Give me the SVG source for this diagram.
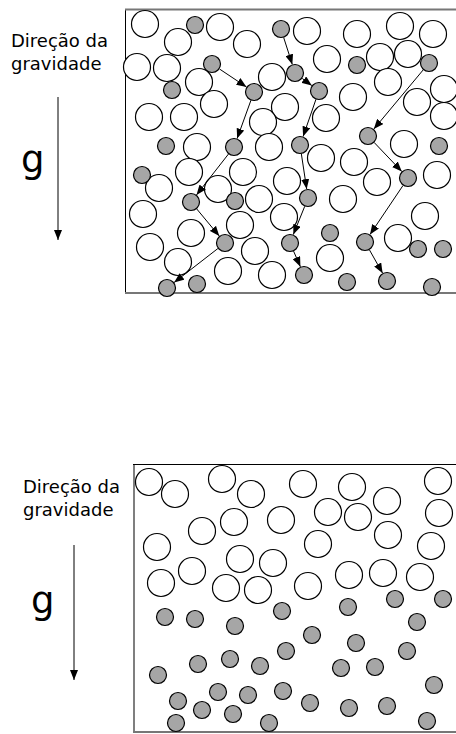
<svg xmlns="http://www.w3.org/2000/svg" width="456" height="734" viewBox="0 0 456 734">
<style>
.w{fill:#fff;stroke:#000;stroke-width:1.2}
.g{fill:#a6a6a6;stroke:#000;stroke-width:1.2}
.t{font-family:"DejaVu Sans",sans-serif;font-size:18px;fill:#000}
.big{font-family:"DejaVu Sans",sans-serif;font-size:37px;fill:#000}
.a{stroke:#000;stroke-width:1;fill:none;marker-end:url(#ah)}
</style>
<defs>
<marker id="ah" markerUnits="userSpaceOnUse" markerWidth="10" markerHeight="8" refX="10" refY="4" orient="auto">
<path d="M0,0 L10,4 L0,8 z" fill="#000"/>
</marker>
</defs>
<rect width="456" height="734" fill="#fff"/>
<g id="labels-top">
<text class="t" x="11" y="47">Direção da</text>
<text class="t" x="11" y="70">gravidade</text>
<text class="big" x="21" y="172">g</text>
<line class="a" x1="58" y1="97" x2="58" y2="240"/>
</g>
<g id="box-top">
<line x1="125.5" y1="9" x2="125.5" y2="294" stroke="#000" stroke-width="1"/>
<line x1="125" y1="9.5" x2="456" y2="9.5" stroke="#777" stroke-width="2"/>
<line x1="125" y1="293" x2="456" y2="293" stroke="#777" stroke-width="2"/>
</g>
<g id="particles-top">
<circle class="w" cx="145" cy="24" r="13.5"/>
<circle class="w" cx="178" cy="42" r="13.5"/>
<circle class="w" cx="220" cy="27" r="13.5"/>
<circle class="w" cx="247" cy="44" r="13.5"/>
<circle class="w" cx="307" cy="31" r="13.5"/>
<circle class="w" cx="357" cy="34" r="13.5"/>
<circle class="w" cx="400" cy="26" r="13.5"/>
<circle class="w" cx="433" cy="34" r="13.5"/>
<circle class="w" cx="137" cy="67" r="13.5"/>
<circle class="w" cx="167" cy="68" r="13.5"/>
<circle class="w" cx="199" cy="82" r="13.5"/>
<circle class="w" cx="272" cy="77" r="13.5"/>
<circle class="w" cx="327" cy="59" r="13.5"/>
<circle class="w" cx="380" cy="57" r="13.5"/>
<circle class="w" cx="408" cy="54" r="13.5"/>
<circle class="w" cx="388" cy="82" r="13.5"/>
<circle class="w" cx="444" cy="89" r="13.5"/>
<circle class="w" cx="214" cy="104" r="13.5"/>
<circle class="w" cx="285" cy="107" r="13.5"/>
<circle class="w" cx="353" cy="97" r="13.5"/>
<circle class="w" cx="417" cy="102" r="13.5"/>
<circle class="w" cx="444" cy="116" r="13.5"/>
<circle class="w" cx="149" cy="117" r="13.5"/>
<circle class="w" cx="184" cy="117" r="13.5"/>
<circle class="w" cx="263" cy="122" r="13.5"/>
<circle class="w" cx="326" cy="118" r="13.5"/>
<circle class="w" cx="197" cy="147" r="13.5"/>
<circle class="w" cx="269" cy="147" r="13.5"/>
<circle class="w" cx="321" cy="158" r="13.5"/>
<circle class="w" cx="404" cy="144" r="13.5"/>
<circle class="w" cx="189" cy="172" r="13.5"/>
<circle class="w" cx="159" cy="188" r="13.5"/>
<circle class="w" cx="243" cy="172" r="13.5"/>
<circle class="w" cx="218" cy="189" r="13.5"/>
<circle class="w" cx="259" cy="199" r="13.5"/>
<circle class="w" cx="287" cy="181" r="13.5"/>
<circle class="w" cx="143" cy="214" r="13.5"/>
<circle class="w" cx="191" cy="233" r="13.5"/>
<circle class="w" cx="240" cy="225" r="13.5"/>
<circle class="w" cx="284" cy="217" r="13.5"/>
<circle class="w" cx="150" cy="247" r="13.5"/>
<circle class="w" cx="178" cy="262" r="13.5"/>
<circle class="w" cx="255" cy="251" r="13.5"/>
<circle class="w" cx="228" cy="271" r="13.5"/>
<circle class="w" cx="272" cy="275" r="13.5"/>
<circle class="w" cx="354" cy="162" r="13.5"/>
<circle class="w" cx="377" cy="182" r="13.5"/>
<circle class="w" cx="437" cy="175" r="13.5"/>
<circle class="w" cx="343" cy="199" r="13.5"/>
<circle class="w" cx="425" cy="216" r="13.5"/>
<circle class="w" cx="398" cy="238" r="13.5"/>
<circle class="w" cx="330" cy="258" r="13.5"/>
<circle class="g" cx="195" cy="25" r="8.5"/>
<circle class="g" cx="281" cy="29" r="8.5"/>
<circle class="g" cx="212" cy="64" r="8.5"/>
<circle class="g" cx="357" cy="65" r="8.5"/>
<circle class="g" cx="429" cy="63" r="8.5"/>
<circle class="g" cx="295" cy="73" r="8.5"/>
<circle class="g" cx="172" cy="90" r="8.5"/>
<circle class="g" cx="254" cy="92" r="8.5"/>
<circle class="g" cx="319" cy="91" r="8.5"/>
<circle class="g" cx="166" cy="146" r="8.5"/>
<circle class="g" cx="234" cy="147" r="8.5"/>
<circle class="g" cx="300" cy="145" r="8.5"/>
<circle class="g" cx="368" cy="136" r="8.5"/>
<circle class="g" cx="439" cy="146" r="8.5"/>
<circle class="g" cx="142" cy="175" r="8.5"/>
<circle class="g" cx="235" cy="201" r="8.5"/>
<circle class="g" cx="191" cy="202" r="8.5"/>
<circle class="g" cx="408" cy="178" r="8.5"/>
<circle class="g" cx="308" cy="198" r="8.5"/>
<circle class="g" cx="330" cy="233" r="8.5"/>
<circle class="g" cx="225" cy="243" r="8.5"/>
<circle class="g" cx="290" cy="243" r="8.5"/>
<circle class="g" cx="365" cy="242" r="8.5"/>
<circle class="g" cx="418" cy="249" r="8.5"/>
<circle class="g" cx="443" cy="249" r="8.5"/>
<circle class="g" cx="167" cy="288" r="8.5"/>
<circle class="g" cx="197" cy="284" r="8.5"/>
<circle class="g" cx="304" cy="275" r="8.5"/>
<circle class="g" cx="347" cy="282" r="8.5"/>
<circle class="g" cx="387" cy="281" r="8.5"/>
<circle class="g" cx="432" cy="287" r="8.5"/>
</g>
<g id="connectors">
<line class="a" x1="219.5" y1="69" x2="246.5" y2="87"/>
<line class="a" x1="250.9" y1="100.4" x2="237.1" y2="138.6"/>
<line class="a" x1="228.5" y1="154" x2="196.5" y2="194.9"/>
<line class="a" x1="196.7" y1="208.9" x2="219.3" y2="236.1"/>
<line class="a" x1="217.9" y1="248.5" x2="174.1" y2="282.5"/>
<line class="a" x1="283.7" y1="37.6" x2="292.3" y2="64.4"/>
<line class="a" x1="302.2" y1="78.4" x2="311.8" y2="85.6"/>
<line class="a" x1="315.9" y1="99.5" x2="303.1" y2="136.5"/>
<line class="a" x1="301.3" y1="153.5" x2="306.7" y2="189.1"/>
<line class="a" x1="304.7" y1="206.4" x2="293.3" y2="234.6"/>
<line class="a" x1="293.6" y1="251.2" x2="300.4" y2="266.8"/>
<line class="a" x1="423.2" y1="69.9" x2="373.8" y2="129.1"/>
<line class="a" x1="374.2" y1="142.5" x2="401.8" y2="171.5"/>
<line class="a" x1="403" y1="185.5" x2="370" y2="234.5"/>
<line class="a" x1="369.4" y1="249.8" x2="382.6" y2="273.2"/>
</g>
<g id="labels-bottom">
<text class="t" x="23" y="493">Direção da</text>
<text class="t" x="23" y="516">gravidade</text>
<text class="big" x="31" y="613">g</text>
<line class="a" x1="74" y1="545" x2="74" y2="680"/>
</g>
<g id="box-bottom">
<line x1="134" y1="464" x2="134" y2="733" stroke="#555" stroke-width="1.5"/>
<line x1="133" y1="464.5" x2="456" y2="464.5" stroke="#000" stroke-width="1"/>
<line x1="133" y1="732" x2="456" y2="732" stroke="#777" stroke-width="2"/>
</g>
<g id="particles-bottom">
<circle class="w" cx="149" cy="482" r="13.5"/>
<circle class="w" cx="175" cy="494" r="13.5"/>
<circle class="w" cx="222" cy="479" r="13.5"/>
<circle class="w" cx="251" cy="494" r="13.5"/>
<circle class="w" cx="303" cy="484" r="13.5"/>
<circle class="w" cx="352" cy="487" r="13.5"/>
<circle class="w" cx="438" cy="481" r="13.5"/>
<circle class="w" cx="387" cy="501" r="13.5"/>
<circle class="w" cx="328" cy="512" r="13.5"/>
<circle class="w" cx="358" cy="517" r="13.5"/>
<circle class="w" cx="439" cy="513" r="13.5"/>
<circle class="w" cx="202" cy="531" r="13.5"/>
<circle class="w" cx="234" cy="522" r="13.5"/>
<circle class="w" cx="281" cy="520" r="13.5"/>
<circle class="w" cx="157" cy="547" r="13.5"/>
<circle class="w" cx="318" cy="544" r="13.5"/>
<circle class="w" cx="388" cy="535" r="13.5"/>
<circle class="w" cx="431" cy="546" r="13.5"/>
<circle class="w" cx="240" cy="559" r="13.5"/>
<circle class="w" cx="273" cy="563" r="13.5"/>
<circle class="w" cx="192" cy="571" r="13.5"/>
<circle class="w" cx="349" cy="575" r="13.5"/>
<circle class="w" cx="383" cy="573" r="13.5"/>
<circle class="w" cx="420" cy="577" r="13.5"/>
<circle class="w" cx="161" cy="583" r="13.5"/>
<circle class="w" cx="226" cy="588" r="13.5"/>
<circle class="w" cx="258" cy="590" r="13.5"/>
<circle class="w" cx="308" cy="586" r="13.5"/>
<circle class="g" cx="165" cy="617" r="8.5"/>
<circle class="g" cx="195" cy="619" r="8.5"/>
<circle class="g" cx="235" cy="626" r="8.5"/>
<circle class="g" cx="282" cy="611" r="8.5"/>
<circle class="g" cx="348" cy="607" r="8.5"/>
<circle class="g" cx="395" cy="599" r="8.5"/>
<circle class="g" cx="443" cy="599" r="8.5"/>
<circle class="g" cx="417" cy="622" r="8.5"/>
<circle class="g" cx="312" cy="635" r="8.5"/>
<circle class="g" cx="356" cy="643" r="8.5"/>
<circle class="g" cx="407" cy="651" r="8.5"/>
<circle class="g" cx="286" cy="651" r="8.5"/>
<circle class="g" cx="198" cy="664" r="8.5"/>
<circle class="g" cx="230" cy="659" r="8.5"/>
<circle class="g" cx="260" cy="666" r="8.5"/>
<circle class="g" cx="341" cy="668" r="8.5"/>
<circle class="g" cx="375" cy="667" r="8.5"/>
<circle class="g" cx="158" cy="675" r="8.5"/>
<circle class="g" cx="434" cy="685" r="8.5"/>
<circle class="g" cx="178" cy="701" r="8.5"/>
<circle class="g" cx="218" cy="692" r="8.5"/>
<circle class="g" cx="248" cy="695" r="8.5"/>
<circle class="g" cx="283" cy="691" r="8.5"/>
<circle class="g" cx="310" cy="703" r="8.5"/>
<circle class="g" cx="349" cy="708" r="8.5"/>
<circle class="g" cx="387" cy="706" r="8.5"/>
<circle class="g" cx="202" cy="710" r="8.5"/>
<circle class="g" cx="233" cy="714" r="8.5"/>
<circle class="g" cx="176" cy="723" r="8.5"/>
<circle class="g" cx="269" cy="723" r="8.5"/>
<circle class="g" cx="427" cy="721" r="8.5"/>
</g>
</svg>
